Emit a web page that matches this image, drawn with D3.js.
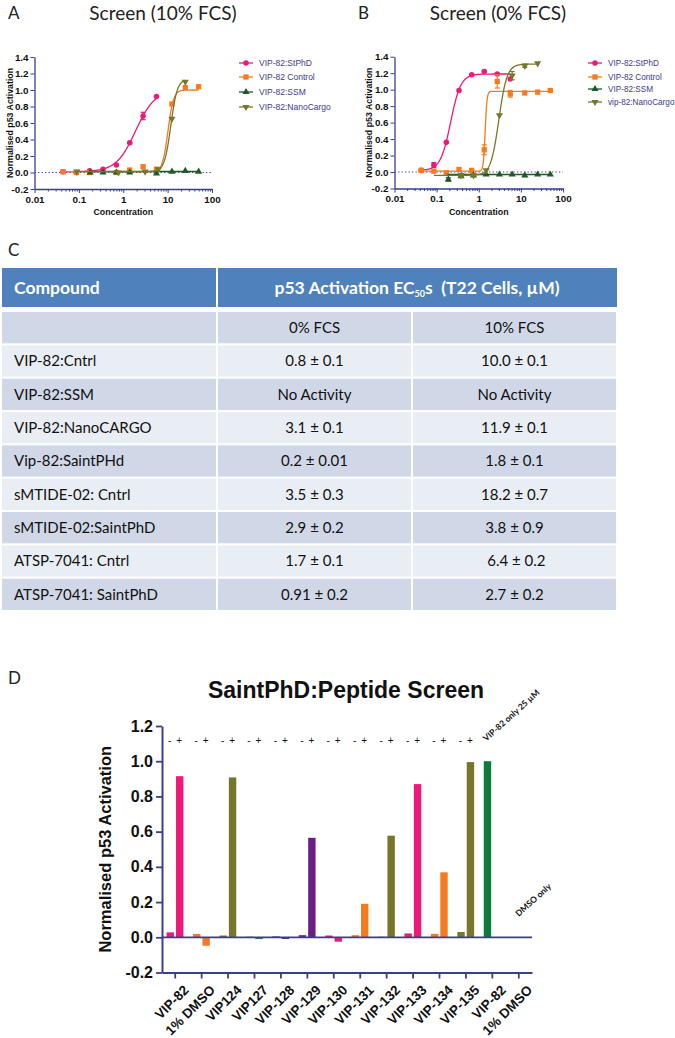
<!DOCTYPE html>
<html><head><meta charset="utf-8">
<script src="https://cdn.jsdelivr.net/npm/d3@7"></script>
<style>body{margin:0;background:#fff}svg{display:block}</style>
</head><body>
<svg id="fig" width="675" height="1038"></svg>
<script>
// ---------------- DATA ----------------
const legendA = ["VIP-82:StPhD","VIP-82 Control","VIP-82:SSM","VIP-82:NanoCargo"];
const legendB = ["VIP-82:StPhD","VIP-82 Control","VIP-82:SSM","vip-82:NanoCargo"];
const seriesColors = ["#ec1a78","#f57b20","#1d5a26","#77772c"];
const seriesSymbols = ["circle","square","triangle","triangleDown"];
const yTicksDR = [-0.2,0,0.2,0.4,0.6,0.8,1.0,1.2,1.4];
const xMajorDR = [0.01,0.1,1,10,100];
const xMajorLabels = ["0.01","0.1","1","10","100"];

// Panel A (10% FCS)
const aStPhD_x = [0.044,0.088,0.175,0.35,0.7,1.4,2.8,5.6];
const aStPhD_y = [0.01,0.0,0.02,0.04,0.09,0.36,0.685,0.92];
const aStPhD_e = [0,0,0,0,0,0.01,0.045,0];
const aCtrl_x = [0.044,0.088,0.175,0.7,1.4,2.8,5.6,12.5,25,50];
const aCtrl_y = [0.01,0.0,0.0,0.0,0.03,0.07,0.04,0.83,1.03,1.04];
const aCtrl_e = [0,0,0,0,0,0,0,0,0,0];
const aSSM_x = [0.18,0.35,0.7,1.4,5.6,12.5,25,50];
const aSSM_y = [0.0,0.0,0.0,0.0,-0.01,0.01,0.02,0.01];
const aSSM_e = [0,0,0,0,0,0,0,0];
const aNano_x = [0.09,0.78,3.1,6.2,12.5,25];
const aNano_y = [0.01,0.0,0.01,0.04,0.65,1.1];
const aNano_e = [0,0,0,0,0,0];
// fitted curve parameters [bottom, top, EC50, hill, xmin, xmax]
const aFits = [[0.01,1.0,1.9,2.0,0.044,5.6],[0.01,1.0,10.2,7,0.044,50],[0.012,0.012,1,1,0.175,50],[0.01,1.13,11.8,6,0.088,25]];

// Panel B (0% FCS)
const bStPhD_x = [0.043,0.086,0.17,0.34,0.68,1.35,2.75,5.6];
const bStPhD_y = [0.02,0.085,0.36,0.99,1.18,1.22,1.19,1.13];
const bStPhD_e = [0,0.03,0,0,0.01,0.01,0,0];
const bCtrl_x = [0.043,0.086,0.17,0.34,0.68,1.35,2.75,5.6,12.4,25,50];
const bCtrl_y = [0.02,0.01,-0.01,0.03,0.02,0.27,1.1,0.95,0.96,0.97,0.99];
const bCtrl_e = [0,0,0,0,0,0.06,0.08,0.04,0,0,0];
const bSSM_x = [0.19,0.38,0.75,1.5,3.1,6.2,12.4,25,50];
const bSSM_y = [-0.09,-0.05,-0.04,-0.03,-0.03,-0.03,-0.04,-0.03,-0.03];
const bSSM_e = [0.02,0.01,0,0,0,0,0,0,0];
const bNano_x = [0.38,0.75,1.5,3.1,6.2,12.4,25];
const bNano_y = [-0.04,-0.04,0.02,0.69,1.17,1.29,1.32];
const bNano_e = [0.02,0.01,0,0,0.05,0.02,0];
const bFits = [[0.02,1.19,0.215,3.6,0.043,5.6],[0.01,0.98,1.42,20,0.043,50],[-0.03,-0.03,1,1,0.18,50],[-0.04,1.31,3.0,4.5,0.086,25]];

// Panel C table
const tableHeader = ["Compound","p53 Activation EC","50","s  (T22 Cells, µM)"];
const subHeader = ["","0% FCS","10% FCS"];
const compounds = ["VIP-82:Cntrl","VIP-82:SSM","VIP-82:NanoCARGO","Vip-82:SaintPHd","sMTIDE-02: Cntrl","sMTIDE-02:SaintPhD","ATSP-7041: Cntrl","ATSP-7041: SaintPhD"];
const ec50_0 = ["0.8 ± 0.1","No Activity","3.1 ± 0.1","0.2 ± 0.01","3.5 ± 0.3","2.9 ± 0.2","1.7 ± 0.1","0.91 ± 0.2"];
const ec50_10 = ["10.0 ± 0.1","No Activity","11.9 ± 0.1","1.8 ± 0.1","18.2 ± 0.7","3.8 ± 0.9"," 6.4 ± 0.2","2.7 ± 0.2"];

// Panel D
const dCats = ["VIP-82","1% DMSO","VIP124","VIP127","VIP-128","VIP-129","VIP-130","VIP-131","VIP-132","VIP-133","VIP-134","VIP-135","VIP-82","1% DMSO"];
const dMinus = [0.028,0.019,0.01,0.003,0.005,0.012,0.01,0.012,0.003,0.022,0.02,0.03,1.0,0];
const dPlus = [0.915,-0.048,0.908,-0.01,-0.01,0.565,-0.025,0.19,0.577,0.87,0.369,0.995,null,null];
const dColors = ["#ec1a78","#f57b20","#77772c","#1d8f3e","#3a3a9a","#6b1f86","#ec1a78","#f57b20","#77772c","#ec1a78","#f57b20","#77772c","#0b7c3c","#999999"];
const dSigns = 12;
const yTicksD = [-0.2,0,0.2,0.4,0.6,0.8,1.0,1.2];

// ---------------- DRAW ----------------
const svg = d3.select("#fig");
const AX = "#3a3d92";
const ARIAL = "'Liberation Sans', Arial, sans-serif";
const LATO = "Lato, 'Open Sans', sans-serif";

function hill(p, x){ return p[0] + (p[1]-p[0])/(1+Math.pow(p[2]/x, p[3])); }
function symPath(kind, size){
  const t = kind==="circle"?d3.symbolCircle:kind==="square"?d3.symbolSquare:d3.symbolTriangle;
  return d3.symbol().type(t).size(size)();
}

function drawDR(cfg){
  const g = svg.append("g");
  const x = d3.scaleLog().domain([0.01,100]).range(cfg.xr);
  const y = d3.scaleLinear().domain([-0.2,1.4]).range(cfg.yr);
  g.append("line").attr("x1",x(0.01)).attr("x2",x(100)).attr("y1",y(0)).attr("y2",y(0))
    .attr("stroke",AX).attr("stroke-width",1).attr("stroke-dasharray","1.3,2.2");
  const ya = g.append("g").attr("transform",`translate(${x(0.01)},0)`)
    .call(d3.axisLeft(y).tickValues(yTicksDR).tickFormat(d=>d.toFixed(1)).tickSize(4).tickSizeOuter(0).tickPadding(2));
  const minors = [];
  [0.01,0.1,1,10].forEach(d=>{for(let k=2;k<=9;k++) minors.push(d*k);});
  const xa = g.append("g").attr("transform",`translate(0,${y(-0.2)})`)
    .call(d3.axisBottom(x).tickValues(xMajorDR.concat(minors)).tickFormat(d=>{const i=xMajorDR.indexOf(d);return i>=0?xMajorLabels[i]:"";}).tickSize(4).tickSizeOuter(0).tickPadding(3));
  xa.selectAll(".tick").filter(d=>xMajorDR.indexOf(d)<0).select("line").attr("y2",2.5);
  [ya,xa].forEach(a=>{
    a.select(".domain").attr("stroke",AX).attr("stroke-width",1.3);
    a.selectAll(".tick line").attr("stroke",AX).attr("stroke-width",1);
    a.selectAll("text").attr("font-family",ARIAL).attr("font-weight","bold").attr("font-size",9.8).attr("fill","#111");
  });
  g.append("text").attr("transform",`translate(${cfg.ylabX},${(cfg.yr[0]+cfg.yr[1])/2}) rotate(-90)`)
    .attr("text-anchor","middle").attr("dy","0.35em").attr("font-family",ARIAL).attr("font-weight","bold").attr("font-size",8.8).attr("fill","#111")
    .text("Normalised p53 Activation");
  g.append("text").attr("x",(cfg.xr[0]+cfg.xr[1])/2).attr("y",cfg.yr[0]+26).attr("text-anchor","middle")
    .attr("font-family",ARIAL).attr("font-weight","bold").attr("font-size",8.8).attr("fill","#111").text("Concentration");
  g.append("text").attr("x",cfg.titleX).attr("y",20).attr("text-anchor","middle").attr("font-family",LATO).attr("font-size",19).attr("fill","#222").text(cfg.title);
  g.append("text").attr("x",cfg.letterX).attr("y",19).attr("font-family",LATO).attr("font-size",17).attr("fill","#222").text(cfg.letter);
  cfg.series.forEach((s,i)=>{
    const col = seriesColors[i];
    const fit = cfg.fits[i];
    const lx0 = Math.log10(fit[4]), lx1 = Math.log10(fit[5]);
    const pts = d3.range(0,301).map(k=>{const xv=Math.pow(10,lx0+(lx1-lx0)*k/300);return [x(xv),y(hill(fit,xv))];});
    g.append("path").attr("d",d3.line()(pts)).attr("fill","none").attr("stroke",col).attr("stroke-width",1.3);
    const sg = g.append("g");
    s.x.forEach((xv,j)=>{
      const e = s.e[j];
      if(e>0){
        sg.append("line").attr("x1",x(xv)).attr("x2",x(xv)).attr("y1",y(s.y[j]-e)).attr("y2",y(s.y[j]+e)).attr("stroke",col).attr("stroke-width",1.2);
        [s.y[j]-e,s.y[j]+e].forEach(v=>sg.append("line").attr("x1",x(xv)-2.5).attr("x2",x(xv)+2.5).attr("y1",y(v)).attr("y2",y(v)).attr("stroke",col).attr("stroke-width",1.2));
      }
      const kind = seriesSymbols[i];
      sg.append("path").attr("d",symPath(kind, kind==="circle"?24:kind==="square"?28:22))
        .attr("transform",`translate(${x(xv)},${y(s.y[j])})${kind==="triangleDown"?" rotate(180)":""}`)
        .attr("fill",col);
    });
  });
  cfg.legend.forEach((name,i)=>{
    const yy = cfg.legY[i];
    const col = seriesColors[i];
    g.append("line").attr("x1",cfg.legX-7).attr("x2",cfg.legX+7).attr("y1",yy).attr("y2",yy).attr("stroke",col).attr("stroke-width",1.3);
    const kind = seriesSymbols[i];
    g.append("path").attr("d",symPath(kind, kind==="circle"?24:kind==="square"?28:22))
      .attr("transform",`translate(${cfg.legX},${yy})${kind==="triangleDown"?" rotate(180)":""}`).attr("fill",col);
    g.append("text").attr("x",cfg.legX+13).attr("y",yy).attr("dy","0.35em").attr("font-family",ARIAL).attr("font-size",cfg.legFont)
      .attr("fill","#3b3b8c").text(name);
  });
}

drawDR({xr:[34.5,212], yr:[189,57], ylabX:10, title:"Screen (10% FCS)", titleX:163, letter:"A", letterX:8,
  legend:legendA, legX:246, legY:[63,77,92,107], legFont:8.5, fits:aFits,
  series:[{x:aStPhD_x,y:aStPhD_y,e:aStPhD_e},{x:aCtrl_x,y:aCtrl_y,e:aCtrl_e},{x:aSSM_x,y:aSSM_y,e:aSSM_e},{x:aNano_x,y:aNano_y,e:aNano_e}]});
drawDR({xr:[394.5,563], yr:[188.5,56.7], ylabX:369, title:"Screen (0% FCS)", titleX:498, letter:"B", letterX:358,
  legend:legendB, legX:595, legY:[63,77,89,102], legFont:8.2, fits:bFits,
  series:[{x:bStPhD_x,y:bStPhD_y,e:bStPhD_e},{x:bCtrl_x,y:bCtrl_y,e:bCtrl_e},{x:bSSM_x,y:bSSM_y,e:bSSM_e},{x:bNano_x,y:bNano_y,e:bNano_e}]});

// ---------------- TABLE (C) ----------------
(function(){
  const g = svg.append("g");
  g.append("text").attr("x",8).attr("y",256).attr("font-family",LATO).attr("font-size",17).attr("fill","#222").text("C");
  const colX = [2,217,412,617];
  const hy0 = 268, hy1 = 307;
  g.append("rect").attr("x",colX[0]).attr("y",hy0).attr("width",colX[1]-colX[0]-1).attr("height",hy1-hy0).attr("fill","#4f81bd");
  g.append("rect").attr("x",colX[1]+1).attr("y",hy0).attr("width",colX[3]-colX[1]-1).attr("height",hy1-hy0).attr("fill","#4f81bd");
  g.append("text").attr("x",14).attr("y",(hy0+hy1)/2).attr("dy","0.36em").attr("font-family",LATO).attr("font-weight","bold").attr("font-size",17.5).attr("fill","#fff").text(tableHeader[0]);
  const ht = g.append("text").attr("x",(colX[1]+colX[3])/2).attr("y",(hy0+hy1)/2).attr("dy","0.36em").attr("text-anchor","middle")
    .attr("font-family",LATO).attr("font-weight","bold").attr("font-size",17.5).attr("fill","#fff").attr("xml:space","preserve");
  ht.append("tspan").text(tableHeader[1]);
  ht.append("tspan").attr("font-size",9).attr("dy",3).text(tableHeader[2]);
  ht.append("tspan").attr("dy",-3).text(tableHeader[3]);
  const rows = [subHeader].concat(compounds.map((c,i)=>[c,ec50_0[i],ec50_10[i]]));
  const ry = d3.scaleBand().domain(d3.range(rows.length)).range([311,611]).paddingInner(0);
  rows.forEach((r,i)=>{
    const y0 = ry(i), h = ry.bandwidth();
    const fill = i%2===0 ? "#d0d8e8" : "#e9edf4";
    for(let c=0;c<3;c++){
      g.append("rect").attr("x",colX[c]+(c>0?1:0)).attr("y",y0+1).attr("width",colX[c+1]-colX[c]-(c>0?1:0)-1).attr("height",h-2).attr("fill",fill);
      const t = g.append("text").attr("y",y0+h/2).attr("dy","0.36em").attr("font-family",LATO).attr("font-size",15).attr("fill","#111").attr("xml:space","preserve").text(r[c]);
      if(c===0) t.attr("x",14); else t.attr("x",(colX[c]+colX[c+1])/2).attr("text-anchor","middle");
    }
  });
})();

// ---------------- PANEL D ----------------
(function(){
  const g = svg.append("g");
  g.append("text").attr("x",8).attr("y",684).attr("font-family",LATO).attr("font-size",17).attr("fill","#222").text("D");
  g.append("text").attr("x",346).attr("y",698).attr("text-anchor","middle").attr("font-family",ARIAL).attr("font-weight","bold").attr("font-size",23).attr("fill","#111").text("SaintPhD:Peptide Screen");
  const x = d3.scaleBand().domain(d3.range(dCats.length)).range([162,532]);
  const y = d3.scaleLinear().domain([-0.2,1.2]).range([972.5,726]);
  const bw = x.bandwidth();
  const barW = bw*0.28;
  const cx = i=>x(i)+bw/2;
  dCats.forEach((c,i)=>{
    const m = dMinus[i], p = dPlus[i];
    if(m!==null && m!==0) g.append("rect").attr("x",cx(i)-1.2-barW).attr("width",barW).attr("y",y(Math.max(0,m))).attr("height",Math.abs(y(m)-y(0))).attr("fill",dColors[i]);
    if(p!==null && p!==0) g.append("rect").attr("x",cx(i)+0.8).attr("width",barW).attr("y",y(Math.max(0,p))).attr("height",Math.abs(y(p)-y(0))).attr("fill",dColors[i]);
  });
  g.append("line").attr("x1",162).attr("x2",532).attr("y1",y(0)).attr("y2",y(0)).attr("stroke",AX).attr("stroke-width",1.8);
  const ya = g.append("g").attr("transform","translate(162,0)")
    .call(d3.axisLeft(y).tickValues(yTicksD).tickFormat(d=>d.toFixed(1)).tickSize(6).tickSizeOuter(0).tickPadding(3));
  const xa = g.append("g").attr("transform",`translate(0,${y(-0.2)})`)
    .call(d3.axisBottom(x).tickFormat(i=>dCats[i]).tickSize(6).tickSizeOuter(0).tickPadding(4));
  [ya,xa].forEach(a=>{
    a.select(".domain").attr("stroke",AX).attr("stroke-width",2);
    a.selectAll(".tick line").attr("stroke",AX).attr("stroke-width",1.8);
    a.selectAll("text").attr("font-family",ARIAL).attr("font-weight","bold").attr("fill","#111");
  });
  ya.selectAll("text").attr("font-size",16);
  xa.selectAll("text").attr("font-size",13.5).attr("text-anchor","end").attr("dy","0.35em")
    .attr("transform","translate(4,8) rotate(-45)");
  g.append("text").attr("transform",`translate(105,${(726+972.5)/2}) rotate(-90)`).attr("text-anchor","middle").attr("dy","0.35em")
    .attr("font-family",ARIAL).attr("font-weight","bold").attr("font-size",16.5).attr("fill","#111").text("Normalised p53 Activation");
  d3.range(dSigns).forEach(i=>{
    g.append("text").attr("x",cx(i)-5.5).attr("y",y(1.12)).attr("dy","0.35em").attr("text-anchor","middle").attr("font-family",ARIAL).attr("font-size",10).attr("fill","#111").text("-");
    g.append("text").attr("x",cx(i)+4).attr("y",y(1.12)).attr("dy","0.35em").attr("text-anchor","middle").attr("font-family",ARIAL).attr("font-size",10).attr("fill","#111").text("+");
  });
  g.append("text").attr("transform",`translate(${cx(12)-6},${y(1.11)}) rotate(-42)`).attr("font-family",LATO).attr("font-weight","bold").attr("font-size",8.5).attr("fill","#111").text("VIP-82 only 25 µM");
  g.append("text").attr("transform",`translate(${cx(13)},${y(0.115)}) rotate(-42)`).attr("font-family",LATO).attr("font-weight","bold").attr("font-size",8.5).attr("fill","#111").text("DMSO only");
})();
</script>
</body></html>
